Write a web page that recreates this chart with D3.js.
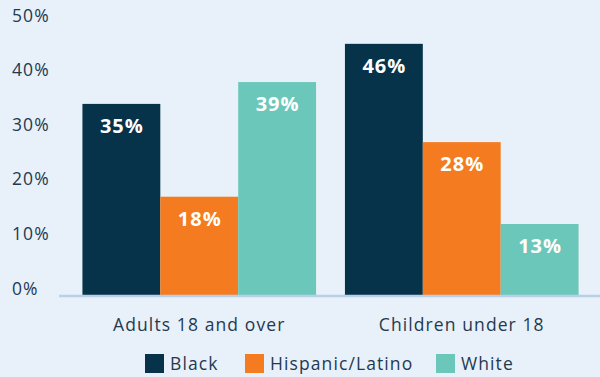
<!DOCTYPE html>
<html>
<head>
<meta charset="utf-8">
<script src="https://cdn.jsdelivr.net/npm/d3@7/dist/d3.min.js"></script>
<style>
  html, body { margin: 0; padding: 0; background: #e8f0f9; }
  svg { display: block; font-family: "Open Sans", "Lato", sans-serif; }
</style>
</head>
<body>
<svg id="chart" width="600" height="377"></svg>
<script>
// Share of each group, by race/ethnicity (percent)
const groups = ["Adults 18 and over", "Children under 18"];
const series = ["Black", "Hispanic/Latino", "White"];
const black = [35, 46];
const hispanic = [18, 28];
const white = [39, 13];
const yTicks = [0, 10, 20, 30, 40, 50];
const colors = ["#06324a", "#f47b20", "#6cc7bb"];

const values = [black, hispanic, white];
const rows = groups.map((g, gi) => ({
  group: g,
  bars: series.map((s, si) => ({ series: s, value: values[si][gi], color: colors[si] }))
}));

const svg = d3.select("#chart");
const textColor = "#1e3a50";
const spacing = "1.1px";

const y = d3.scaleLinear().domain([0, 50]).range([295, 22]);
const x0 = d3.scaleBand().domain(groups).range([68, 593])
  .paddingInner(0.11).paddingOuter(0.055);
const x1 = d3.scaleBand().domain(series).range([0, x0.bandwidth()]);

// y-axis labels (no line, no ticks)
const yAxis = d3.axisLeft(y).tickValues(yTicks).tickFormat(d => d + "%").tickSize(0).tickPadding(0);
const yg = svg.append("g").attr("transform", "translate(12,0)").call(yAxis);
yg.select(".domain").remove();
yg.selectAll("text")
  .attr("text-anchor", "start")
  .attr("dy", "-0.05em")
  .attr("fill", textColor)
  .style("font-size", "17.5px")
  .style("letter-spacing", spacing)
  .style("font-family", "'Open Sans', sans-serif");

// bars
const g = svg.append("g");
const grp = g.selectAll("g.grp").data(rows).join("g")
  .attr("class", "grp")
  .attr("transform", d => `translate(${x0(d.group)},0)`);

grp.selectAll("rect").data(d => d.bars).join("rect")
  .attr("x", d => x1(d.series))
  .attr("y", d => y(d.value))
  .attr("width", x1.bandwidth())
  .attr("height", d => y(0) - y(d.value))
  .attr("fill", d => d.color);

grp.selectAll("text.val").data(d => d.bars).join("text")
  .attr("class", "val")
  .attr("x", d => x1(d.series) + x1.bandwidth() / 2 + 0.5)
  .attr("y", d => y(d.value) + 29)
  .attr("text-anchor", "middle")
  .attr("fill", "#ffffff")
  .style("font-size", "20px")
  .style("font-weight", "700")
  .style("letter-spacing", "1px")
  .text(d => d.value + "%");

// baseline
svg.append("line")
  .attr("x1", 59).attr("x2", 600)
  .attr("y1", y(0) + 1).attr("y2", y(0) + 1)
  .attr("stroke", "#b8cfe8").attr("stroke-width", 2.5);

// category axis
const xAxis = d3.axisBottom(x0).tickSize(0).tickPadding(0);
const xg = svg.append("g").attr("transform", "translate(0,331)").call(xAxis);
xg.select(".domain").remove();
xg.selectAll("text")
  .attr("dy", 0)
  .attr("fill", textColor)
  .style("font-size", "17.5px")
  .style("letter-spacing", spacing)
  .style("font-family", "'Open Sans', sans-serif");

// legend
const legendX = [145, 245, 436];
const lg = svg.append("g").selectAll("g").data(series).join("g")
  .attr("transform", (d, i) => `translate(${legendX[i]},354)`);
lg.append("rect").attr("width", 19).attr("height", 19)
  .attr("fill", (d, i) => colors[i]);
lg.append("text").attr("x", 25).attr("y", 16)
  .attr("fill", textColor)
  .style("font-size", "17.5px")
  .style("letter-spacing", spacing)
  .text(d => d);
</script>
</body>
</html>
